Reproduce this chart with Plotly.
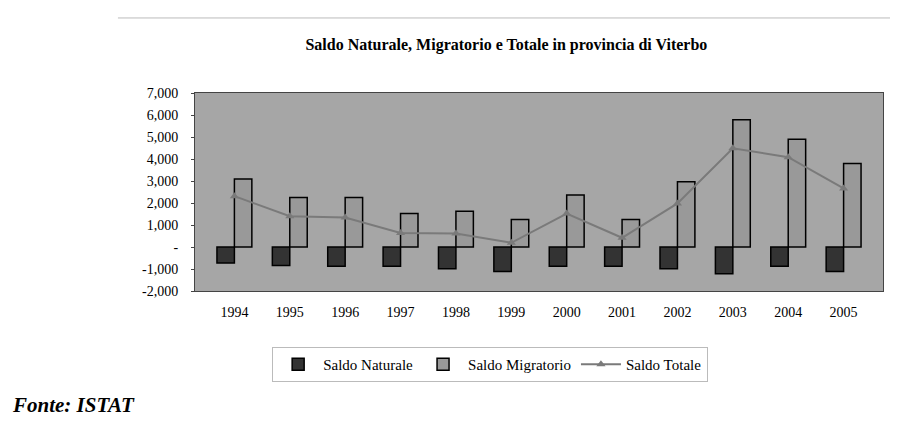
import plotly.graph_objects as go

anni = ['1994', '1995', '1996', '1997', '1998', '1999', '2000', '2001', '2002', '2003', '2004', '2005']
saldo_naturale = [-730, -840, -870, -870, -990, -1110, -870, -870, -990, -1220, -870, -1110]
saldo_migratorio = [3090, 2250, 2250, 1520, 1630, 1250, 2360, 1250, 2970, 5780, 4900, 3800]
saldo_totale = [2310, 1400, 1340, 640, 610, 190, 1520, 420, 1980, 4490, 4080, 2660]

y_ticks = [7000, 6000, 5000, 4000, 3000, 2000, 1000, 0, -1000, -2000]
y_labels = ['7,000', '6,000', '5,000', '4,000', '3,000', '2,000', '1,000', '-', '-1,000', '-2,000']

font = 'Liberation Serif, Times New Roman, serif'

fig = go.Figure()
fig.add_trace(go.Bar(x=anni, y=saldo_naturale, name='Saldo Naturale',
                     marker=dict(color='#333333', line=dict(color='#000000', width=1.5))))
fig.add_trace(go.Bar(x=anni, y=saldo_migratorio, name='Saldo Migratorio',
                     marker=dict(color='#999999', line=dict(color='#000000', width=1.5))))
fig.add_trace(go.Scatter(x=anni, y=saldo_totale, name='Saldo Totale', mode='lines+markers',
                         line=dict(color='#7a7a7a', width=2),
                         marker=dict(symbol='triangle-up', size=8, color='#7a7a7a')))

fig.update_layout(
    width=890, height=419,
    margin=dict(l=187, r=15, t=85, b=136),
    paper_bgcolor='white',
    plot_bgcolor='#a6a6a6',
    font=dict(family=font, size=14, color='#000000'),
    title=dict(text='<b>Saldo Naturale, Migratorio e Totale in provincia di Viterbo</b>',
               x=0.56, xanchor='center', y=0.912, yanchor='middle',
               font=dict(family=font, size=16)),
    barmode='group', bargap=0.37, bargroupgap=0,
    showlegend=True,
    legend=dict(orientation='h', x=0.429, xanchor='center', y=-0.283, yanchor='top',
                bordercolor='#bbbbbb', borderwidth=1, bgcolor='white', itemwidth=40,
                font=dict(family=font, size=15), traceorder='normal'),
    xaxis=dict(showgrid=False, ticks='', linecolor='#444444', mirror=True, showline=True,
               ticklabelstandoff=8, tickfont=dict(family=font, size=14)),
    yaxis=dict(range=[-2000, 7000], tickvals=y_ticks, ticktext=y_labels, showgrid=False,
               zeroline=False, linecolor='#444444', showline=True, mirror=True,
               ticks='outside', ticklen=3, tickcolor='#444444', ticklabelstandoff=10,
               tickfont=dict(family=font, size=14)),
    shapes=[
        dict(type='line', xref='paper', yref='paper', x0=-0.112, x1=1.0145, y0=1.379, y1=1.379,
             line=dict(color='#bbbbbb', width=1)),
        dict(type='line', xref='paper', yref='paper', x0=1.0145, x1=1.0145, y0=1.379, y1=-0.7,
             line=dict(color='#cccccc', width=1)),
    ],
    annotations=[
        dict(text='<b><i>Fonte: ISTAT</i></b>', xref='paper', yref='paper', x=-0.269, y=-0.576,
             xanchor='left', yanchor='middle', showarrow=False,
             font=dict(family=font, size=21, color='#000000')),
    ],
)

fig.write_html('out.html')
